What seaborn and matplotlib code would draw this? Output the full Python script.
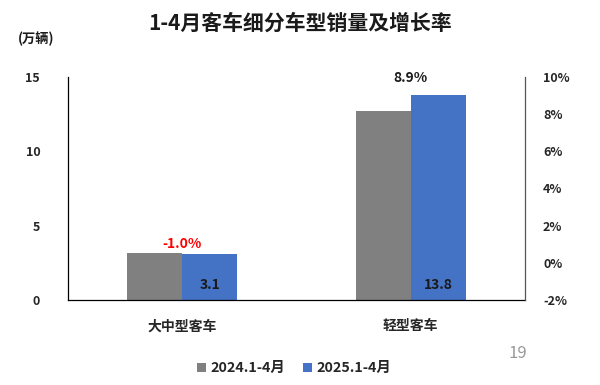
import pandas as pd
import matplotlib
matplotlib.use("Agg")
import matplotlib.pyplot as plt
import seaborn as sns

# data
categories = ["大中型客车", "轻型客车"]
series = ["2024.1-4月", "2025.1-4月"]
sales_2024 = [3.13, 12.7]
sales_2025 = [3.1, 13.8]
growth = [-1.0, 8.9]
growth_labels = ["-1.0%", "8.9%"]
growth_colors = ["#FF0000", "#1A1A1A"]
left_ticks = [0, 5, 10, 15]
right_ticks = [-2, 0, 2, 4, 6, 8, 10]

sns.set_theme(style="white")
plt.rcParams["font.family"] = ["Noto Sans CJK SC", "DejaVu Sans"]

df = pd.DataFrame({
    "category": categories * 2,
    "series": [series[0]] * 2 + [series[1]] * 2,
    "sales": sales_2024 + sales_2025,
})

fig = plt.figure(figsize=(6, 3.85), dpi=100)
ax = fig.add_axes([0.1133, 0.2208, 0.7617, 0.5792])

sns.barplot(data=df, x="category", y="sales", hue="series",
            palette=["#808080", "#4472C4"], width=0.48, gap=0,
            saturation=1, linewidth=0, ax=ax, legend=True)

ax.set_ylim(0, 15)
ax.set_xlim(-0.5, 1.5)
ax.set_yticks(left_ticks)
ax.set_yticklabels([str(t) for t in left_ticks], fontsize=9, fontweight="bold")
ax.set_xticks(range(len(categories)))
ax.set_xticklabels(categories, fontsize=10, fontweight="bold")
ax.tick_params(axis="x", length=0, pad=14)
ax.tick_params(axis="y", length=0, pad=20)
ax.set_xlabel("")
ax.set_ylabel("")
for side in ["top", "right"]:
    ax.spines[side].set_visible(False)
for side in ["left", "bottom"]:
    ax.spines[side].set_color("#000000")
    ax.spines[side].set_linewidth(0.9)

# secondary axis for growth rate
ax2 = ax.twinx()
ax2.set_ylim(-2, 10)
ax2.set_yticks(right_ticks)
ax2.set_yticklabels([f"{t}%" for t in right_ticks], fontsize=9, fontweight="bold")
ax2.tick_params(axis="y", length=0, pad=13)
for side in ["top", "left", "bottom"]:
    ax2.spines[side].set_visible(False)
ax2.spines["right"].set_color("#555555")
ax2.spines["right"].set_linewidth(0.9)

# value labels inside the 2025 bars
for i, v in enumerate(sales_2025):
    ax.annotate(f"{v:.1f}", xy=(i + 0.12, 0), xytext=(0, 6),
                textcoords="offset points", ha="center", va="bottom",
                fontsize=10, fontweight="bold", color="#1A1A1A")

# growth rate labels above each group
for i, (g, lab, c) in enumerate(zip(growth, growth_labels, growth_colors)):
    top = max(sales_2024[i], sales_2025[i])
    ax.annotate(lab, xy=(i, top), xytext=(0, 2 if i == 0 else 7),
                textcoords="offset points", ha="center", va="bottom",
                fontsize=10, fontweight="bold", color=c)

handles, labels = ax.get_legend_handles_labels()
ax.legend_.remove()
fig.legend(handles, labels, loc="center", bbox_to_anchor=(0.49, 0.043), ncol=2,
           frameon=False, prop={"size": 10.3, "weight": "bold"},
           handlelength=0.6, handleheight=0.6, handletextpad=0.3, columnspacing=1.3)

fig.text(0.5, 0.94, "1-4月客车细分车型销量及增长率", ha="center", va="center",
         fontsize=15, fontweight="bold", color="#1A1A1A")
fig.text(0.03, 0.9, "(万辆)", ha="left", va="center", fontsize=9.5,
         fontweight="bold", color="#1A1A1A")
fig.text(0.848, 0.083, "19", ha="left", va="center", fontsize=12, color="#999999")

fig.savefig("out.png", dpi=100)
